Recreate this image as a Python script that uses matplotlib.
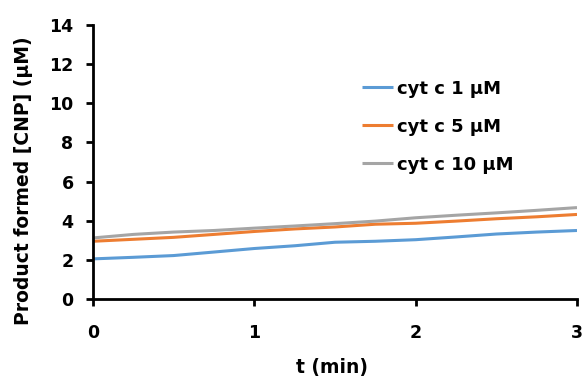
import matplotlib
matplotlib.use("Agg")
import matplotlib.pyplot as plt

t = [0, 0.25, 0.5, 0.75, 1.0, 1.25, 1.5, 1.75, 2.0, 2.25, 2.5, 2.75, 3.0]
cyt1 = [2.05, 2.13, 2.22, 2.40, 2.58, 2.72, 2.90, 2.95, 3.03, 3.17, 3.32, 3.42, 3.50]
cyt5 = [2.95, 3.05, 3.15, 3.30, 3.45, 3.58, 3.68, 3.82, 3.87, 3.98, 4.10, 4.20, 4.32]
cyt10 = [3.12, 3.30, 3.42, 3.50, 3.62, 3.73, 3.85, 3.98, 4.15, 4.28, 4.40, 4.53, 4.67]
labels = ["cyt c 1 μM", "cyt c 5 μM", "cyt c 10 μM"]
colors = ["#5B9BD5", "#ED7D31", "#A5A5A5"]
xticks = [0, 1, 2, 3]
yticks = [0, 2, 4, 6, 8, 10, 12, 14]

plt.rcParams['font.family'] = ['DejaVu Sans']
plt.rcParams['font.weight'] = 'bold'

fig = plt.figure(figsize=(5.82, 3.79), dpi=100)
ax = fig.add_axes([93/582, 1-299/379, (577-93)/582, (299-25)/379])

for y, lab, c in zip([cyt1, cyt5, cyt10], labels, colors):
    ax.plot(t, y, color=c, lw=2.2, label=lab, solid_capstyle='butt')

ax.set_xlim(0, 3)
ax.set_ylim(0, 14)
ax.set_xticks(xticks)
ax.set_yticks(yticks)
for s in ['top', 'right']:
    ax.spines[s].set_visible(False)
for s in ['left', 'bottom']:
    ax.spines[s].set_linewidth(2.0)
    ax.spines[s].set_color('black')
ax.tick_params(axis='both', width=2.0, length=5, direction='out', labelsize=12.5)
ax.tick_params(axis='x', pad=13)
ax.tick_params(axis='y', pad=9)
for lbl in ax.get_xticklabels() + ax.get_yticklabels():
    lbl.set_fontweight('bold')

ax.set_xlabel("t (min)", fontsize=13.5, fontweight='bold')
ax.set_ylabel("Product formed [CNP] (μM)", fontsize=13.5, fontweight='bold')
ax.xaxis.set_label_coords((332 - 93) / 484, -(367 - 299) / 274)
ax.yaxis.set_label_coords(-(93 - 24) / 484, (299 - 181) / 274)
ax.xaxis.label.set_va('center')
ax.yaxis.label.set_va('center')

leg = ax.legend(loc='upper left', bbox_to_anchor=(0.556, 0.80), frameon=False,
                prop={'size': 13, 'weight': 'bold'}, handlelength=1.7,
                handletextpad=0.25, labelspacing=1.1, borderpad=0,
                borderaxespad=0)

fig.savefig("out.png", dpi=100)
